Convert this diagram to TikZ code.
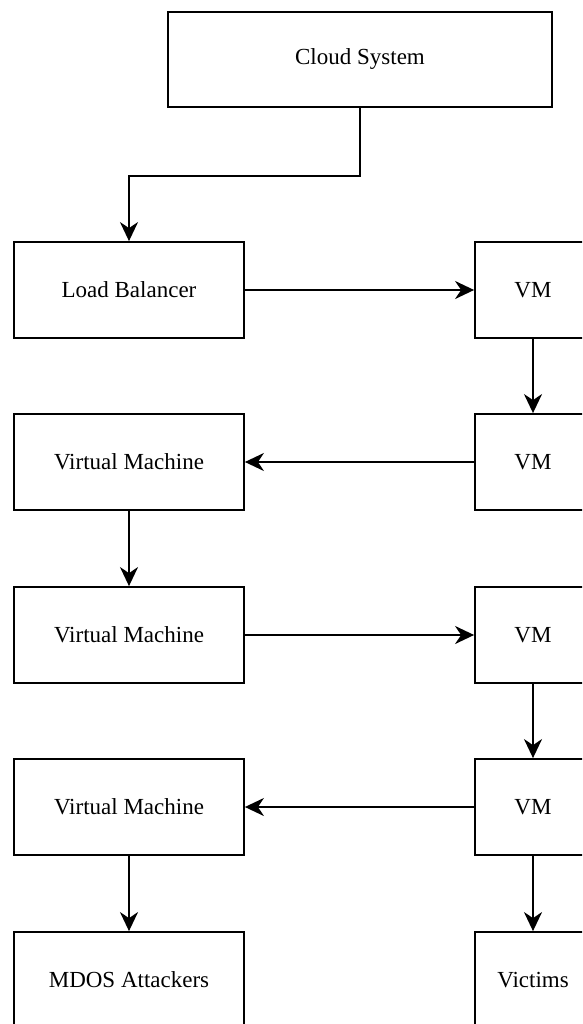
\documentclass[tikz,border=0pt]{standalone}
\usepackage{fontspec}
\setmainfont{Liberation Serif}
\usetikzlibrary{arrows.meta}

\begin{document}
\begin{tikzpicture}[
  x=1pt,y=-1pt,
  font=\fontsize{23}{27}\selectfont,
  box/.style={draw,line width=1.8pt,minimum height=96pt,inner sep=0pt,fill=white},
  wide/.style={box,minimum width=230pt},
  narrow/.style={box,minimum width=116pt},
  flow/.style={-{Stealth[length=19pt,width=18pt,inset=6pt]},line width=1.8pt}
]
\useasboundingbox (0,0) rectangle (582,1024);
\clip (0,0) rectangle (582,1024);

% Top: the cloud feeds the balancer
\node[box,minimum width=384pt,minimum height=95pt] (cloud) at (360,59.5) {Cloud System};
\node[wide] (lb) at (129,290) {Load Balancer};
\node[narrow] (vma) at (533,290) {VM};

% Zig-zag chain of machines
\node[wide] (vmca) at (129,462) {Virtual Machine};
\node[narrow] (vmb) at (533,462) {VM};
\node[wide] (vmcb) at (129,635) {Virtual Machine};
\node[narrow] (vmc) at (533,635) {VM};
\node[wide] (vmcc) at (129,807) {Virtual Machine};
\node[narrow] (vmd) at (533,807) {VM};

% Bottom row
\node[wide] (attack) at (129,980) {MDOS Attackers};
\node[narrow] (victim) at (533,980) {Victims};

\draw[flow] (cloud.south) -- ++(0,68) -| (lb.north);
\draw[flow] (lb) -- (vma);
\draw[flow] (vma) -- (vmb);
\draw[flow] (vmb) -- (vmca);
\draw[flow] (vmca) -- (vmcb);
\draw[flow] (vmcb) -- (vmc);
\draw[flow] (vmc) -- (vmd);
\draw[flow] (vmd) -- (vmcc);
\draw[flow] (vmcc) -- (attack);
\draw[flow] (vmd) -- (victim);
\end{tikzpicture}
\end{document}
